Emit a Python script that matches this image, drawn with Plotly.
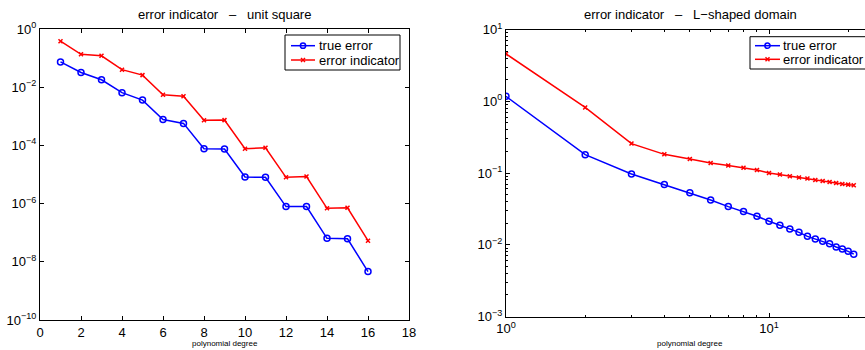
import plotly.graph_objects as go

W, H = 865, 350

# ---- data ----
left_deg = list(range(1, 17))
left_true = [0.074, 0.032, 0.018, 0.0065, 0.0036, 7.8e-4, 5.7e-4, 7.7e-5, 7.5e-5,
             8.2e-6, 8.0e-6, 7.9e-7, 7.9e-7, 6.4e-8, 6.2e-8, 4.6e-9]
left_ind = [0.38, 0.135, 0.12, 0.040, 0.026, 0.0055, 0.0049, 7.3e-4, 7.4e-4,
            7.7e-5, 8.3e-5, 8.0e-6, 8.5e-6, 6.9e-7, 7.2e-7, 5.3e-8]

right_deg = list(range(1, 22))
right_true = [1.17, 0.18, 0.097, 0.069, 0.053, 0.042, 0.034, 0.029, 0.025, 0.0213,
              0.0187, 0.0166, 0.0149, 0.0131, 0.0120, 0.0112, 0.0103, 0.0093,
              0.0087, 0.0081, 0.0074]
right_ind = [4.57, 0.82, 0.257, 0.182, 0.157, 0.138, 0.127, 0.118, 0.110, 0.100,
             0.0953, 0.0902, 0.0865, 0.0838, 0.080, 0.0775, 0.075, 0.0726,
             0.0703, 0.0689, 0.0675]

left_title = "error indicator \u00a0 \u2013 \u00a0 unit square"
right_title = "error indicator \u00a0 \u2013 \u00a0 L\u2212shaped domain"
xlabel = "polynomial degree"
series_names = ["true error", "error indicator"]

left_xticks = [0, 2, 4, 6, 8, 10, 12, 14, 16, 18]
left_yexp = [0, -2, -4, -6, -8, -10]
right_xexp = [0, 1]
right_yexp = [1, 0, -1, -2, -3]

FONT = "Liberation Sans, Arial, sans-serif"
BLUE = "#0000ff"
RED = "#ff0000"


def sup(e):
    s = str(e).replace("-", "\u2212")
    return "10<sup>" + s + "</sup>"


def px(x):
    return x / W


def py(y):
    return 1 - y / H


fig = go.Figure()

blue_style = dict(mode="lines+markers", line=dict(color=BLUE, width=1.5),
                  marker=dict(symbol="circle-open", size=6, color=BLUE,
                              line=dict(width=1.5, color=BLUE)))
red_style = dict(mode="lines+markers", line=dict(color=RED, width=1.5),
                 marker=dict(symbol="x-thin-open", size=4, color=RED,
                             line=dict(width=1.5, color=RED)))

fig.add_trace(go.Scatter(x=left_deg, y=left_true, name=series_names[0],
                         xaxis="x", yaxis="y", **blue_style))
fig.add_trace(go.Scatter(x=left_deg, y=left_ind, name=series_names[1],
                         xaxis="x", yaxis="y", **red_style))
fig.add_trace(go.Scatter(x=right_deg, y=right_true, name=series_names[0],
                         xaxis="x2", yaxis="y2", **blue_style))
fig.add_trace(go.Scatter(x=right_deg, y=right_ind, name=series_names[1],
                         xaxis="x2", yaxis="y2", **red_style))

# geometry (pixels)
L_x0, L_x1, L_y0, L_y1 = 40, 409, 29, 320
R_x0, R_y0, R_y1 = 506, 29.5, 316.5
R_dec = 263.0
R_xmax = (W - R_x0) / R_dec

ax_common = dict(showline=True, linecolor="black", linewidth=1, ticks="inside",
                 tickcolor="black", ticklen=4, showgrid=False, zeroline=False,
                 tickfont=dict(family=FONT, size=13, color="black"))

minor_y = [k * 10.0 ** e for e in range(-3, 1) for k in range(2, 10)]
minor_x = [k * 10.0 ** e for e in range(0, 2) for k in range(2, 10)]

fig.update_layout(
    width=W, height=H,
    margin=dict(l=0, r=0, t=0, b=0, autoexpand=False),
    paper_bgcolor="white", plot_bgcolor="white",
    font=dict(family=FONT, color="black"),
    showlegend=False,
    xaxis=dict(domain=[px(L_x0), px(L_x1)], range=[0, 18], tickvals=left_xticks,
               mirror="ticks", anchor="y", **ax_common),
    yaxis=dict(domain=[py(L_y1), py(L_y0)], type="log", range=[-10, 0],
               tickvals=[10.0 ** e for e in left_yexp],
               ticktext=[sup(e) for e in left_yexp],
               mirror="ticks", anchor="x", **ax_common),
    xaxis2=dict(domain=[px(R_x0), 1.0], type="log", range=[0, R_xmax],
                tickvals=[10.0 ** e for e in right_xexp],
                ticktext=[sup(e) for e in right_xexp],
                minor=dict(tickvals=minor_x, ticks="inside", ticklen=2,
                           tickcolor="black", showgrid=False),
                mirror="ticks", anchor="y2", **ax_common),
    yaxis2=dict(domain=[py(R_y1), py(R_y0)], type="log", range=[-3, 1],
                tickvals=[10.0 ** e for e in right_yexp],
                ticktext=[sup(e) for e in right_yexp],
                minor=dict(tickvals=minor_y, ticks="inside", ticklen=2,
                           tickcolor="black", showgrid=False),
                mirror=False, anchor="x2", **ax_common),
)

shapes = []
ann = []


def legend(box, line_x, rows, text_x):
    bx0, by0, bx1, by1 = box
    shapes.append(dict(type="rect", xref="paper", yref="paper",
                       x0=px(bx0), x1=px(bx1), y0=py(by1), y1=py(by0),
                       line=dict(color="black", width=1), fillcolor="white",
                       layer="above"))
    colors = [BLUE, RED]
    for i, ry in enumerate(rows):
        c = colors[i]
        shapes.append(dict(type="line", xref="paper", yref="paper",
                           x0=px(line_x[0]), x1=px(line_x[1]), y0=py(ry), y1=py(ry),
                           line=dict(color=c, width=1.5), layer="above"))
        mx = (line_x[0] + line_x[1]) / 2
        if i == 0:
            r = 2.6
            shapes.append(dict(type="circle", xref="paper", yref="paper",
                               x0=px(mx - r), x1=px(mx + r), y0=py(ry + r), y1=py(ry - r),
                               line=dict(color=c, width=1.5), layer="above"))
        else:
            r = 2
            for s in (1, -1):
                shapes.append(dict(type="line", xref="paper", yref="paper",
                                   x0=px(mx - r), x1=px(mx + r),
                                   y0=py(ry - s * r), y1=py(ry + s * r),
                                   line=dict(color=c, width=1.5), layer="above"))
        ann.append(dict(text=series_names[i], x=px(text_x), y=py(ry),
                        xref="paper", yref="paper", showarrow=False,
                        xanchor="left", yanchor="middle",
                        font=dict(family=FONT, size=13, color="black")))


legend((285, 35, 400, 70), (291, 315), (45.7, 60), 317)
legend((750, 36.7, 880, 69), (755, 780), (45.7, 59.3), 781)

ann.append(dict(text=left_title, x=px((L_x0 + L_x1) / 2), y=py(15),
                xref="paper", yref="paper", showarrow=False,
                xanchor="center", yanchor="middle",
                font=dict(family=FONT, size=13, color="black")))
ann.append(dict(text=right_title, x=px(690), y=py(15),
                xref="paper", yref="paper", showarrow=False,
                xanchor="center", yanchor="middle",
                font=dict(family=FONT, size=13, color="black")))
ann.append(dict(text=xlabel, x=px((L_x0 + L_x1) / 2), y=py(343),
                xref="paper", yref="paper", showarrow=False,
                xanchor="center", yanchor="middle",
                font=dict(family=FONT, size=8, color="black")))
ann.append(dict(text=xlabel, x=px(690), y=py(343),
                xref="paper", yref="paper", showarrow=False,
                xanchor="center", yanchor="middle",
                font=dict(family=FONT, size=8, color="black")))
fig.update_layout(shapes=shapes, annotations=ann)

fig.write_html("out.html")
